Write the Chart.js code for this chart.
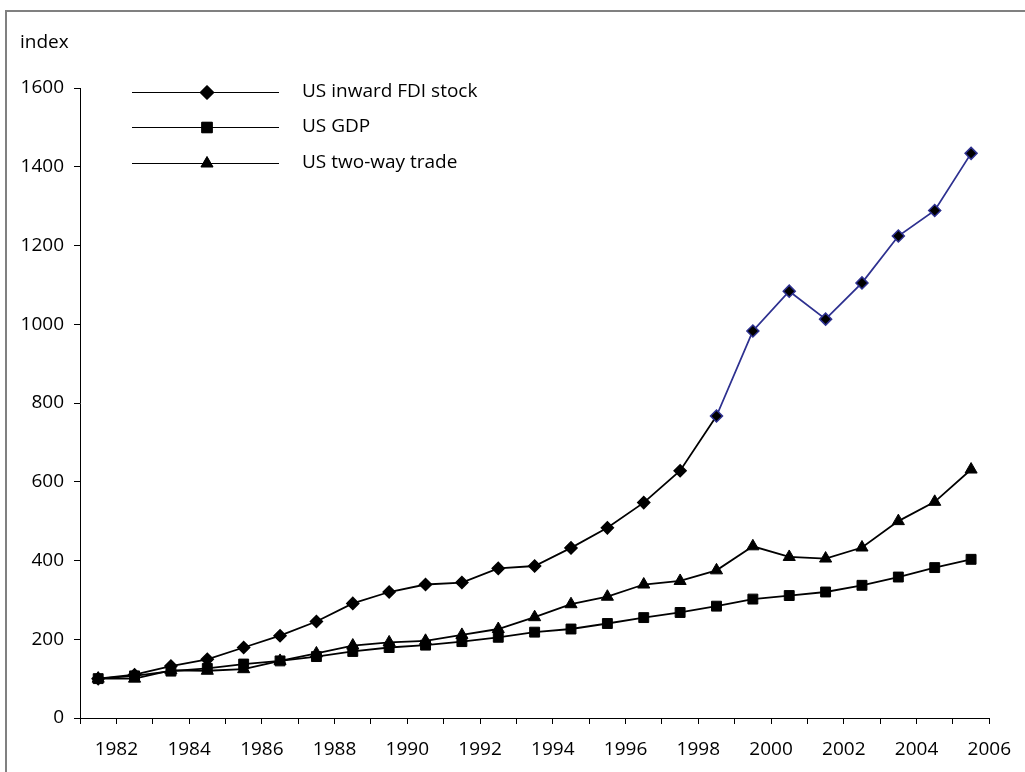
<!DOCTYPE html>
<html>
<head>
<meta charset="utf-8">
<script src="https://cdn.jsdelivr.net/npm/chart.js@4/dist/chart.umd.min.js"></script>
<style>
    body { margin: 0; overflow: hidden; background: #fff; }
    #frame { position: absolute; left: 5px; top: 10px; width: 1200px; height: 900px;
             border-left: 2px solid #808080; border-top: 2px solid #808080; }
    #wrap { position: absolute; left: 0; top: 0; width: 1025px; height: 772px; }
</style>
</head>
<body>
<div id="frame"></div>
<div id="wrap"><canvas id="fdiChart" width="1025" height="772"></canvas></div>
<script>
// years the points belong to (plotted mid-year, between the axis labels)
let years = [1981, 1982, 1983, 1984, 1985, 1986, 1987, 1988, 1989, 1990, 1991, 1992, 1993,
             1994, 1995, 1996, 1997, 1998, 1999, 2000, 2001, 2002, 2003, 2004, 2005];

let fdiStock = [100, 110, 132, 149, 179, 209, 245, 291, 320, 339, 344, 380, 386,
                432, 483, 547, 628, 767, 983, 1084, 1013, 1105, 1224, 1289, 1434];
let gdp = [100, 107, 119, 126, 137, 145, 156, 169, 179, 185, 194, 205, 218,
           226, 240, 255, 268, 284, 302, 311, 320, 337, 358, 382, 403];
let trade = [100, 100, 121, 120, 124, 145, 164, 184, 192, 196, 211, 226, 256,
             289, 308, 339, 348, 375, 436, 409, 405, 433, 500, 549, 631];

let seriesNames = ["US inward FDI stock", "US GDP", "US two-way trade"];
let yTicks = [0, 200, 400, 600, 800, 1000, 1200, 1400, 1600];

// FDI line turns navy from this point on
let navyFrom = 17;
const navy = "#2e3190";
const fontFamily = "'Open Sans', 'Liberation Sans', sans-serif";

const legendPlugin = {
    id: "sideLegend",
    afterDraw(chart) {
        let ctx = chart.ctx;
        let rows = [92, 127, 163];
        ctx.save();
        // axis title
        ctx.fillStyle = "#000";
        ctx.font = "19px " + fontFamily;
        ctx.textBaseline = "middle";
        ctx.textAlign = "left";
        ctx.fillText("index", 20, 43);

        chart.data.datasets.forEach((ds, i) => {
            let y = rows[i];
            ctx.strokeStyle = "#000";
            ctx.lineWidth = 1;
            ctx.beginPath();
            ctx.moveTo(132, y + 0.5);
            ctx.lineTo(279, y + 0.5);
            ctx.stroke();
            ctx.fillStyle = "#000";
            Chart.helpers.drawPoint(ctx, { pointStyle: ds.pointStyle, radius: ds.legendRadius, rotation: 0, borderWidth: 1 }, 207, y + 0.5);
            ctx.fill();
            ctx.fillStyle = "#000";
            ctx.fillText(ds.label, 302, y);
        });
        ctx.restore();
    }
};

let ctx = document.getElementById("fdiChart").getContext("2d");
new Chart(ctx, {
    type: "line",
    data: {
        labels: years,
        datasets: [
            {
                label: seriesNames[0],
                data: fdiStock,
                borderColor: "#000",
                borderWidth: 1.8,
                pointStyle: "rectRot",
                pointRadius: 6,
                legendRadius: 7,
                pointBackgroundColor: "#000",
                pointBorderColor: fdiStock.map((v, i) => i >= navyFrom ? navy : "#000"),
                pointBorderWidth: 1.5,
                segment: {
                    borderColor: c => c.p0DataIndex >= navyFrom ? navy : "#000"
                }
            },
            {
                label: seriesNames[1],
                data: gdp,
                borderColor: "#000",
                borderWidth: 1.8,
                pointStyle: "rect",
                pointRadius: 7,
                legendRadius: 7.5,
                pointBackgroundColor: "#000",
                pointBorderColor: "#000",
                pointBorderWidth: 1
            },
            {
                label: seriesNames[2],
                data: trade,
                borderColor: "#000",
                borderWidth: 1.8,
                pointStyle: "triangle",
                pointRadius: 7,
                legendRadius: 7,
                pointBackgroundColor: "#000",
                pointBorderColor: "#000",
                pointBorderWidth: 1
            }
        ]
    },
    options: {
        responsive: false,
        animation: false,
        layout: { padding: { left: 0, right: 35, top: 88, bottom: 0 } },
        plugins: {
            legend: { display: false },
            tooltip: { enabled: false }
        },
        scales: {
            x: {
                type: "category",
                offset: true,
                display: false
            },
            years: {
                type: "linear",
                position: "bottom",
                min: years[0],
                max: years[years.length - 1] + 1,
                afterFit: function (scale) { scale.height = 54; },
                afterBuildTicks: function (scale) {
                    let t = [];
                    for (let yr = scale.min; yr <= scale.max; yr++) t.push({ value: yr });
                    scale.ticks = t;
                },
                border: { display: true, color: "#000", width: 1 },
                grid: { drawOnChartArea: false, drawTicks: true, tickLength: 6, color: "#000" },
                ticks: {
                    autoSkip: false,
                    maxRotation: 0,
                    padding: 14,
                    color: "#000",
                    font: { family: fontFamily, size: 19 },
                    callback: v => (v % 2 === 0 ? String(v) : "")
                }
            },
            y: {
                min: 0,
                max: 1600,
                afterFit: function (scale) { scale.width = 80; },
                afterBuildTicks: function (scale) {
                    scale.ticks = yTicks.map(v => ({ value: v }));
                },
                border: { display: true, color: "#000", width: 1 },
                grid: { drawOnChartArea: false, drawTicks: true, tickLength: 6, color: "#000" },
                ticks: {
                    padding: 10,
                    color: "#000",
                    font: { family: fontFamily, size: 19 },
                    callback: v => String(v)
                }
            }
        }
    },
    plugins: [legendPlugin]
});
</script>
</body>
</html>
